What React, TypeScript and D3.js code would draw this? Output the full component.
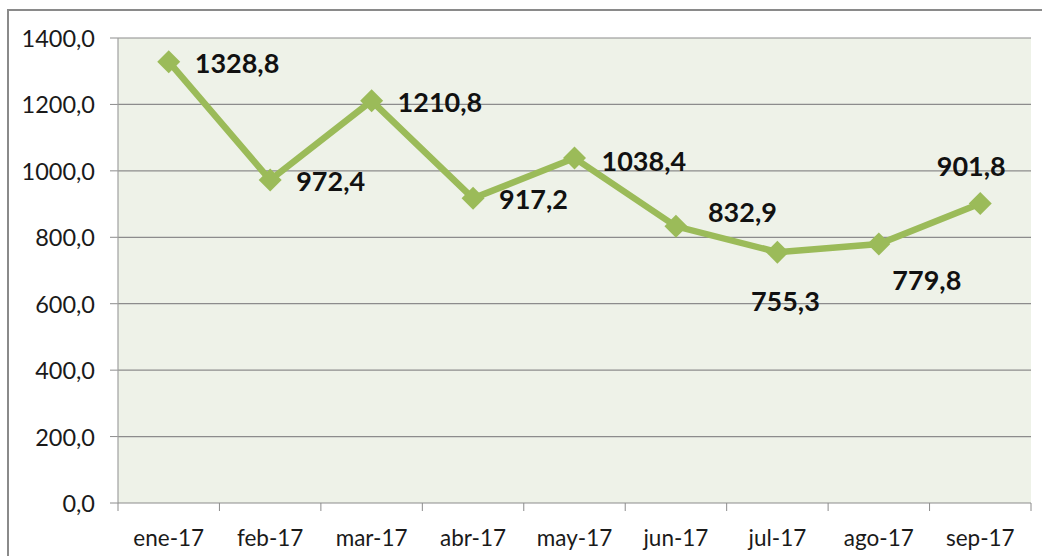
import React from "react";
import * as d3 from "d3";

const categories = ["ene-17", "feb-17", "mar-17", "abr-17", "may-17", "jun-17", "jul-17", "ago-17", "sep-17"];
const values = [1328.8, 972.4, 1210.8, 917.2, 1038.4, 832.9, 755.3, 779.8, 901.8];
const yTicks = [0, 200, 400, 600, 800, 1000, 1200, 1400];

// label placement (styling): anchor, dx, dy relative to the point
const labelPlacement: [string, number, number][] = [
  ["start", 26, 1],
  ["start", 26, 0],
  ["start", 26, 1],
  ["start", 26, 0],
  ["start", 27, 2],
  ["start", 32, -15],
  ["middle", 8, 48],
  ["middle", 48, 36],
  ["middle", -9, -38],
];

const W = 1042;
const H = 556;
const left = 118;
const right = 1031;
const top = 38;
const bottom = 503;

const fmt = (v: number) => v.toFixed(1).replace(".", ",");

export default function App() {
  const x = d3.scaleBand<string>().domain(categories).range([left, right]).padding(0);
  const y = d3.scaleLinear().domain([0, 1400]).range([bottom, top]);
  const cx = (c: string) => (x(c) as number) + x.bandwidth() / 2;
  const line = d3
    .line<number>()
    .x((_, i) => cx(categories[i]))
    .y((d) => y(d));
  const font = "Lato, 'Open Sans', sans-serif";
  const r = 11.5;
  const boundaries = categories.map((c) => x(c) as number).concat([right]);

  return (
    <svg width={W} height={H} style={{ position: "absolute", left: 0, top: 0 }}>
      <rect x={0} y={0} width={W} height={H} fill="#fff" />
      <rect x={8} y={10} width={1200} height={700} fill="none" stroke="#8a8a8a" strokeWidth={2} />
      <rect x={left} y={top} width={right - left} height={bottom - top} fill="#eef2e8" />
      {yTicks.map((t) => (
        <g key={t}>
          {t > 0 && <line x1={left} x2={right} y1={y(t)} y2={y(t)} stroke="#8c8c8c" strokeWidth={1.2} />}
          <line x1={110} x2={left} y1={y(t)} y2={y(t)} stroke="#8c8c8c" strokeWidth={1} />
          <text x={95} y={y(t)} textAnchor="end" dominantBaseline="central" fontFamily={font} fontSize={23.5} fill="#1a1a1a">
            {fmt(t)}
          </text>
        </g>
      ))}
      <line x1={left} x2={left} y1={top} y2={bottom} stroke="#a0a0a0" strokeWidth={1.2} />
      <line x1={left} x2={right} y1={bottom} y2={bottom} stroke="#8c8c8c" strokeWidth={1.2} />
      {boundaries.map((b, i) => (
        <line key={i} x1={b} x2={b} y1={bottom} y2={511} stroke="#8c8c8c" strokeWidth={1} />
      ))}
      {categories.map((c) => (
        <text key={c} x={cx(c)} y={537} textAnchor="middle" dominantBaseline="central" fontFamily={font} fontSize={22.5} fill="#1a1a1a">
          {c}
        </text>
      ))}
      <path d={line(values) || ""} fill="none" stroke="#9bbb59" strokeWidth={6.5} strokeLinejoin="miter" />
      {values.map((v, i) => {
        const px = cx(categories[i]);
        const py = y(v);
        return (
          <path
            key={i}
            d={`M${px},${py - r}L${px + r},${py}L${px},${py + r}L${px - r},${py}Z`}
            fill="#9bbb59"
          />
        );
      })}
      {values.map((v, i) => {
        const [anchor, dx, dy] = labelPlacement[i];
        return (
          <text
            key={i}
            x={cx(categories[i]) + dx}
            y={y(v) + dy}
            textAnchor={anchor as any}
            dominantBaseline="central"
            fontFamily={font}
            fontWeight="bold"
            fontSize={27}
            fill="#111"
          >
            {fmt(v)}
          </text>
        );
      })}
    </svg>
  );
}
